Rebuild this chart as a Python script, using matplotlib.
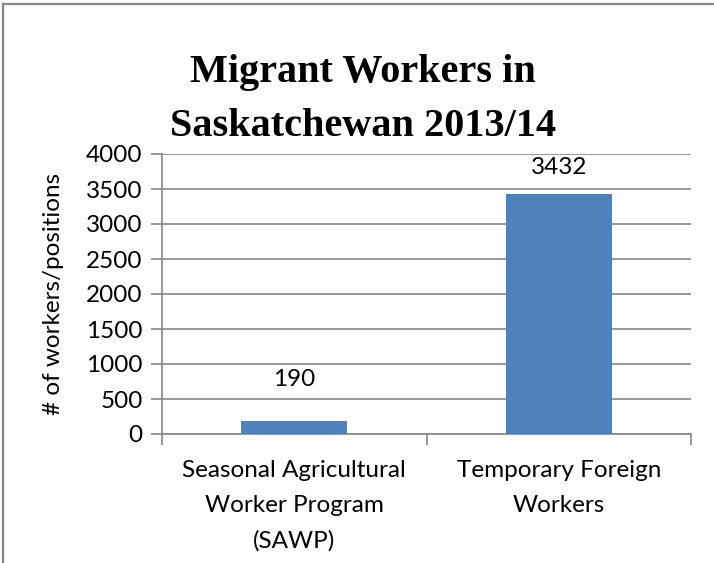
import numpy as np
import matplotlib.pyplot as plt
from matplotlib.lines import Line2D

### DATA
categories = ['Seasonal Agricultural\nWorker Program\n(SAWP)', 'Temporary Foreign\nWorkers']
workers = [190, 3432]
yticks = [0, 500, 1000, 1500, 2000, 2500, 3000, 3500, 4000]
title = 'Migrant Workers in\nSaskatchewan 2013/14'
ylabel = '# of workers/positions'

### STYLE
bar_color = '#4F81BD'
grid_color = '#868686'
label_gap = [25, 14]  # points between bar top and value label baseline
fs = 17.5
plt.rcParams['font.family'] = ['Lato', 'DejaVu Sans']

W, H, DPI = 714, 563, 100
fig = plt.figure(figsize=(W / DPI, H / DPI), dpi=DPI)
ax = fig.add_axes([162 / W, 1 - 434 / H, 529 / W, 280 / H])

x = np.arange(len(categories))
bars = ax.bar(x, workers, width=0.4, color=bar_color, zorder=3)

ax.set_xlim(-0.5, len(categories) - 0.5)
ax.set_ylim(yticks[0], yticks[-1])
ax.set_yticks(yticks)
ax.set_yticklabels([str(v) for v in yticks], fontsize=fs)
ax.yaxis.grid(True, color=grid_color, linewidth=1.2, zorder=0)
ax.set_axisbelow(True)

# category labels in the middle, tick marks on the boundaries
ax.set_xticks(x)
ax.set_xticklabels(categories, fontsize=fs)
for t in ax.get_xticklabels():
    t.set_linespacing(1.8)
ax.set_xticks(np.arange(len(categories) + 1) - 0.5, minor=True)
ax.tick_params(axis='x', which='major', length=0, pad=19)
ax.tick_params(axis='x', which='minor', length=8, width=1.2, color=grid_color)
ax.tick_params(axis='y', length=8, width=1.2, color=grid_color, pad=6)

for s in ['top', 'right']:
    ax.spines[s].set_visible(False)
for s in ['left', 'bottom']:
    ax.spines[s].set_color(grid_color)
    ax.spines[s].set_linewidth(1.2)

ax.set_ylabel(ylabel, fontsize=fs, labelpad=16)

### value labels
for b, v, g in zip(bars, workers, label_gap):
    ax.annotate(str(v), (b.get_x() + b.get_width() / 2, v),
                xytext=(0, g), textcoords='offset points',
                ha='center', va='baseline', fontsize=fs)

### title
fig.text(363 / W, 1 - 54 / H, title, ha='center', va='top',
         fontsize=29, fontweight='bold', family='Liberation Serif',
         linespacing=1.6)

### chart frame (cropped at right and bottom)
fig.add_artist(Line2D([3 / W, 3 / W], [0, 1 - 4 / H], transform=fig.transFigure,
                      color='#878787', linewidth=1.6))
fig.add_artist(Line2D([3 / W, 1], [1 - 4 / H, 1 - 4 / H], transform=fig.transFigure,
                      color='#878787', linewidth=1.6))

fig.savefig('out.png', dpi=DPI)
